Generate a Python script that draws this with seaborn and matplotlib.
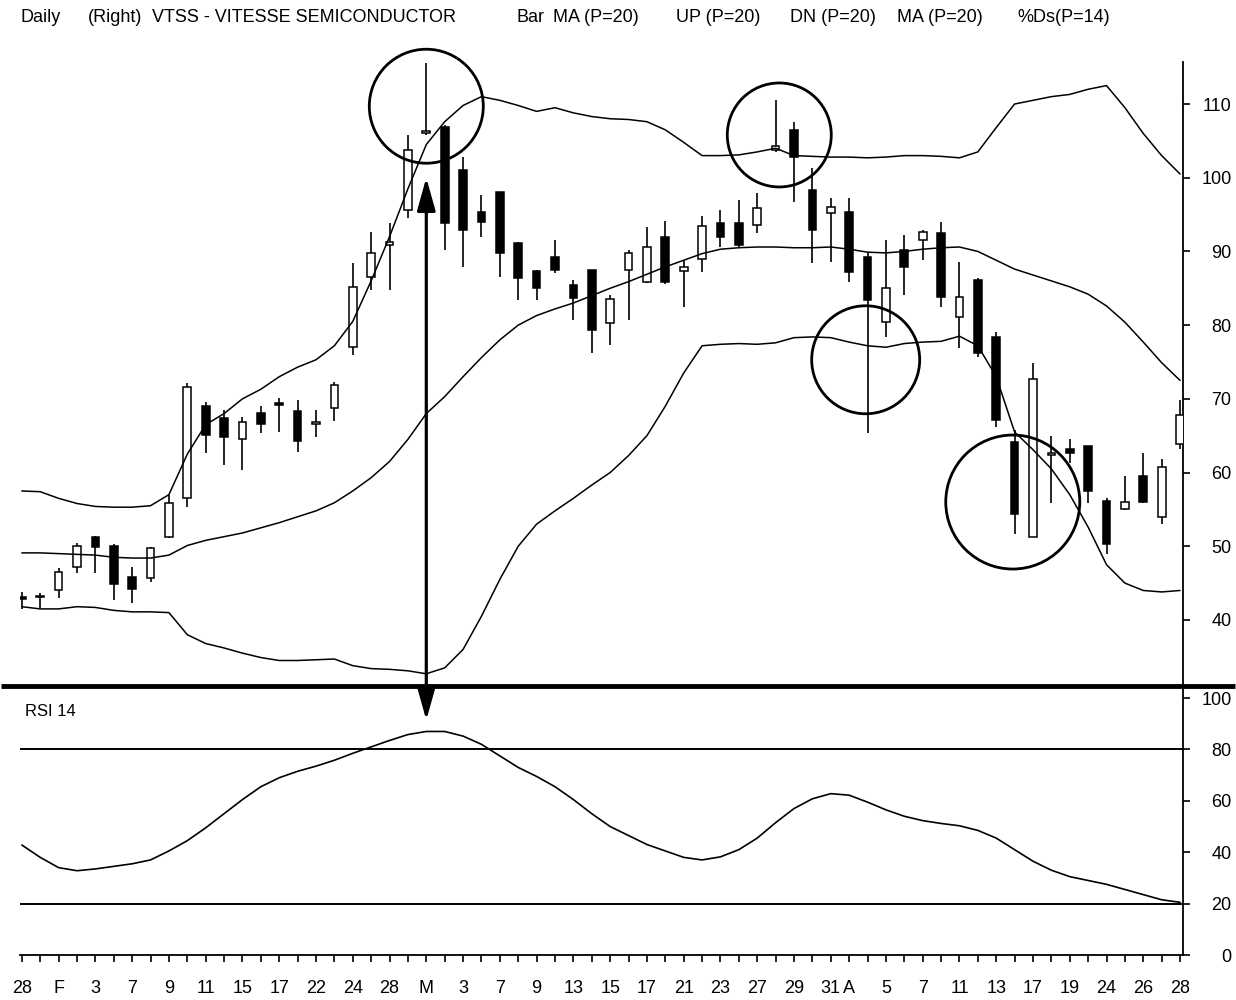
import numpy as np
import pandas as pd
import matplotlib
matplotlib.use("Agg")
import matplotlib.pyplot as plt
import seaborn as sns
from matplotlib.patches import Circle, ConnectionPatch
from matplotlib.transforms import ScaledTranslation

# ---------------- data ----------------
opens = [43.1, 43.1, 44.1, 47.2, 51.3, 50.0, 45.8, 45.7, 51.3, 56.5,
         69.0, 67.4, 64.6, 68.1, 69.5, 68.3, 66.6, 68.8, 77.0, 86.5,
         90.9, 95.6, 106.0, 106.9, 101.0, 95.3, 98.1, 91.1, 87.3, 89.2,
         85.4, 87.5, 80.3, 87.5, 85.9, 92.0, 87.3, 89.0, 93.9, 93.9,
         93.6, 103.7, 106.5, 98.3, 95.2, 95.3, 89.2, 80.4, 90.2, 91.5,
         92.5, 81.1, 86.1, 78.4, 64.1, 51.3, 62.4, 63.2, 63.6, 56.1,
         55.0, 59.5, 54.0, 63.9]
highs = [43.8, 43.7, 47.0, 50.4, 51.4, 50.3, 47.2, 49.9, 57.0, 72.1,
         69.6, 68.5, 67.5, 69.0, 70.1, 69.8, 68.5, 72.3, 88.4, 92.6,
         93.9, 105.8, 115.6, 107.2, 102.8, 97.7, 98.1, 91.3, 87.5, 91.5,
         86.1, 87.5, 84.1, 90.2, 93.3, 94.1, 88.8, 94.8, 95.6, 97.0,
         97.9, 110.5, 107.6, 101.3, 97.2, 97.2, 89.9, 91.5, 92.2, 92.9,
         94.0, 88.6, 86.4, 79.1, 65.8, 74.9, 65.0, 64.6, 63.6, 56.5,
         59.5, 62.6, 61.8, 69.8]
lows = [41.5, 41.6, 43.0, 46.4, 46.4, 42.7, 42.3, 45.2, 51.1, 55.3,
        62.7, 61.0, 60.3, 65.4, 65.5, 62.8, 64.8, 67.0, 75.9, 84.8,
        84.8, 94.5, 105.8, 90.2, 87.9, 92.0, 86.5, 83.4, 83.4, 87.1,
        80.7, 76.2, 77.3, 80.7, 85.7, 85.6, 82.5, 87.2, 90.6, 90.6,
        92.5, 103.5, 96.7, 88.4, 88.6, 85.9, 65.4, 78.4, 84.1, 88.8,
        82.5, 76.9, 75.7, 66.2, 51.7, 51.3, 55.9, 61.3, 55.9, 49.0,
        54.9, 55.9, 53.0, 63.2]
closes = [42.9, 43.3, 46.5, 50.0, 49.9, 44.9, 44.2, 49.8, 55.9, 71.6,
          65.1, 64.8, 66.9, 66.6, 69.1, 64.3, 66.8, 71.9, 85.2, 89.8,
          91.3, 103.8, 106.4, 93.9, 92.9, 94.0, 89.8, 86.4, 85.0, 87.5,
          83.7, 79.3, 83.5, 89.8, 90.6, 85.9, 87.9, 93.4, 92.0, 90.9,
          95.9, 104.3, 102.8, 92.9, 96.0, 87.2, 83.4, 85.0, 87.9, 92.6,
          83.8, 83.8, 76.2, 67.1, 54.4, 72.7, 62.6, 62.6, 57.5, 50.3,
          56.0, 56.0, 60.8, 67.8]
ma20 = [49.1, 49.1, 49.0, 48.9, 48.8, 48.5, 48.4, 48.4, 48.8, 50.1,
        50.8, 51.3, 51.8, 52.5, 53.2, 54.0, 54.8, 55.9, 57.5, 59.3,
        61.5, 64.5, 68.0, 70.3, 73.0, 75.6, 78.0, 80.0, 81.3, 82.2,
        83.0, 84.0, 85.0, 85.9, 86.9, 87.9, 88.8, 89.7, 90.3, 90.5,
        90.6, 90.6, 90.5, 90.5, 90.6, 90.3, 89.9, 89.8, 90.0, 90.3,
        90.5, 90.6, 90.0, 88.8, 87.6, 86.8, 86.0, 85.2, 84.2, 82.6,
        80.4, 77.7, 74.9, 72.5]
upper20 = [57.5, 57.4, 56.5, 55.8, 55.4, 55.3, 55.3, 55.5, 57.0, 62.5,
           66.5, 68.0, 70.0, 71.3, 73.0, 74.3, 75.3, 77.2, 80.5, 86.0,
           92.0, 98.5, 104.5, 107.6, 109.8, 111.0, 110.5, 109.8, 109.0, 109.5,
           108.8, 108.3, 108.0, 107.9, 107.6, 106.5, 104.8, 103.0, 103.0, 103.1,
           103.5, 104.0, 103.0, 102.9, 102.8, 102.8, 102.7, 102.8, 103.0, 103.0,
           102.9, 102.7, 103.5, 106.8, 110.0, 110.5, 111.0, 111.3, 112.0, 112.5,
           109.5, 106.0, 103.0, 100.5]
lower20 = [41.8, 41.5, 41.5, 41.8, 41.7, 41.3, 41.1, 41.1, 41.0, 38.0,
           36.8, 36.2, 35.5, 34.9, 34.5, 34.5, 34.6, 34.7, 33.8, 33.4,
           33.3, 33.1, 32.7, 33.5, 36.0, 40.5, 45.5, 50.0, 53.0, 54.8,
           56.5, 58.3, 60.0, 62.3, 65.0, 69.0, 73.5, 77.2, 77.4, 77.5,
           77.4, 77.6, 78.3, 78.4, 78.3, 77.7, 77.2, 77.0, 77.5, 77.7,
           77.8, 78.5, 77.2, 73.0, 65.5, 63.1, 60.5, 57.0, 52.6, 47.5,
           45.0, 44.0, 43.8, 44.0]
rsi14 = [42.8, 38.0, 34.0, 32.8, 33.5, 34.5, 35.5, 37.0, 40.5, 44.5,
         49.5, 55.0, 60.5, 65.5, 69.0, 71.5, 73.5, 75.8, 78.5, 81.0,
         83.5, 85.8, 87.0, 87.0, 85.2, 82.0, 77.5, 73.0, 69.5, 65.5,
         60.5, 55.0, 50.0, 46.5, 43.0, 40.5, 38.0, 37.0, 38.2, 41.0,
         45.5, 51.5, 57.0, 60.8, 62.8, 62.2, 59.5, 56.5, 54.0, 52.3,
         51.2, 50.3, 48.5, 45.5, 41.0, 36.5, 33.0, 30.5, 29.0, 27.5,
         25.5, 23.5, 21.5, 20.5]

label_idx = [0, 2, 4, 6, 8, 10, 12, 14, 16, 18, 20, 22, 24, 26, 28, 30, 32,
             34, 36, 38, 40, 42, 44, 45, 47, 49, 51, 53, 55, 57, 59, 61, 63]
label_txt = ['28', 'F', '3', '7', '9', '11', '15', '17', '22', '24', '28',
             'M', '3', '7', '9', '13', '15', '17', '21', '23', '27', '29', '31',
             'A', '5', '7', '11', '13', '17', '19', '24', '26', '28']
month_idx = [2, 22, 45]
price_ticks = [40, 50, 60, 70, 80, 90, 100, 110]
rsi_ticks = [0, 20, 40, 60, 80, 100]
rsi_levels = [80, 20]

# annotation circles: (day index, price, radius inches)
circles = [(22, 109.7, 0.57), (41.2, 105.8, 0.52), (45.9, 75.3, 0.54), (53.9, 56.0, 0.67)]

headers = [(20, 'Daily'), (88, '(Right)'), (152, 'VTSS - VITESSE SEMICONDUCTOR'),
           (517, 'Bar'), (553, 'MA (P=20)'), (676, 'UP (P=20)'),
           (790, 'DN (P=20)'), (897, 'MA (P=20)'), (1017, '%Ds(P=14)')]

# ---------------- style ----------------
sns.set_theme(style="white")
plt.rcParams['font.family'] = ['Liberation Sans', 'DejaVu Sans']

W, H = 1236, 1000
fig = plt.figure(figsize=(W / 100, H / 100), dpi=100)
x_left, x_right = 20 / W, 1183 / W
ax_p = fig.add_axes([x_left, 1 - 686 / H, x_right - x_left, (686 - 62) / H])
ax_r = fig.add_axes([x_left, 1 - 955 / H, x_right - x_left, (955 - 686) / H])

df = pd.DataFrame({'day': np.arange(len(opens)), 'open': opens, 'high': highs,
                   'low': lows, 'close': closes, 'ma': ma20, 'up': upper20,
                   'dn': lower20, 'rsi': rsi14})

# candles
ax_p.vlines(df['day'], df['low'], df['high'], color='black', lw=1.2, zorder=2)
body_bottom = np.minimum(df['open'], df['close'])
body_h = np.abs(df['close'] - df['open'])
face = ['white' if c >= o else 'black' for o, c in zip(df['open'], df['close'])]
ax_p.bar(df['day'], body_h, bottom=body_bottom, width=0.42, color=face,
         edgecolor='black', linewidth=1.1, zorder=3)

# bands
for col in ['up', 'ma', 'dn']:
    sns.lineplot(data=df, x='day', y=col, ax=ax_p, color='black', lw=1.1,
                 estimator=None, sort=False, zorder=4)

# RSI
sns.lineplot(data=df, x='day', y='rsi', ax=ax_r, color='black', lw=1.2,
             estimator=None, sort=False)
for lv in rsi_levels:
    ax_r.axhline(lv, color='black', lw=1.4)

xlim = (-0.1, 63.16)
ax_p.set_xlim(*xlim)
ax_r.set_xlim(*xlim)
ax_p.set_ylim(31.04, 115.7)
ax_r.set_ylim(0, 104.7)

for ax in (ax_p, ax_r):
    ax.set_xlabel('')
    ax.set_ylabel('')
    ax.set_facecolor('white')
    for s in ['left', 'top']:
        ax.spines[s].set_visible(False)
    ax.spines['right'].set_visible(True)
    ax.spines['right'].set_color('black')
    ax.spines['right'].set_linewidth(1.3)
    ax.yaxis.tick_right()
    ax.tick_params(axis='y', which='major', direction='out', length=5, width=1.2,
                   color='black', pad=30, labelsize=13, labelcolor='black',
                   right=True, left=False)

ax_p.spines['bottom'].set_visible(False)
ax_p.set_xticks([])
ax_p.set_yticks(price_ticks)
ax_p.set_yticklabels([str(v) for v in price_ticks])
for lbl in ax_p.get_yticklabels():
    lbl.set_horizontalalignment('right')

ax_r.spines['bottom'].set_visible(True)
ax_r.spines['bottom'].set_color('black')
ax_r.spines['bottom'].set_linewidth(1.3)
ax_r.set_yticks(rsi_ticks)
ax_r.set_yticklabels([str(v) for v in rsi_ticks])
for lbl in ax_r.get_yticklabels():
    lbl.set_horizontalalignment('right')

all_days = list(range(len(opens)))
lab_map = dict(zip(label_idx, label_txt))
ax_r.set_xticks(all_days)
ax_r.set_xticklabels([lab_map.get(d, '') for d in all_days])
ax_r.set_xticks(month_idx, minor=True)
ax_r.tick_params(axis='x', which='major', direction='out', length=5, width=1.2,
                 color='black', pad=13, labelsize=13, labelcolor='black', bottom=True)
ax_r.tick_params(axis='x', which='minor', direction='out', length=12, width=1.2,
                 color='black', bottom=True)

# thick separator between panels
ax_r.plot([-0.016, 1.045], [1, 1], transform=ax_r.transAxes, color='black',
          lw=3.5, clip_on=False, solid_capstyle='butt', zorder=10)

ax_r.text(5 / 1163, 1 - (712 - 686) / 269, 'RSI 14', transform=ax_r.transAxes,
          fontsize=12, va='center', ha='left', color='black')

# header
for xp, s in headers:
    fig.text(xp / W, 1 - 18 / H, s, fontsize=13, va='center', ha='left', color='black')

# annotation circles
for cx, cy, r in circles:
    tr = fig.dpi_scale_trans + ScaledTranslation(cx, cy, ax_p.transData)
    fig.add_artist(Circle((0, 0), r, transform=tr, fill=False, ec='black',
                          lw=2.0, clip_on=False, zorder=20))

# double-headed arrow from price panel into RSI panel
arr = ConnectionPatch(xyA=(22, 100.0), coordsA=ax_p.transData,
                      xyB=(22, 91.4), coordsB=ax_r.transData,
                      arrowstyle='<|-|>,head_length=1.0,head_width=0.28',
                      mutation_scale=20, lw=2.3, color='black',
                      shrinkA=0, shrinkB=0, zorder=21)
fig.add_artist(arr)

fig.savefig('out.png', dpi=100, facecolor='white')
